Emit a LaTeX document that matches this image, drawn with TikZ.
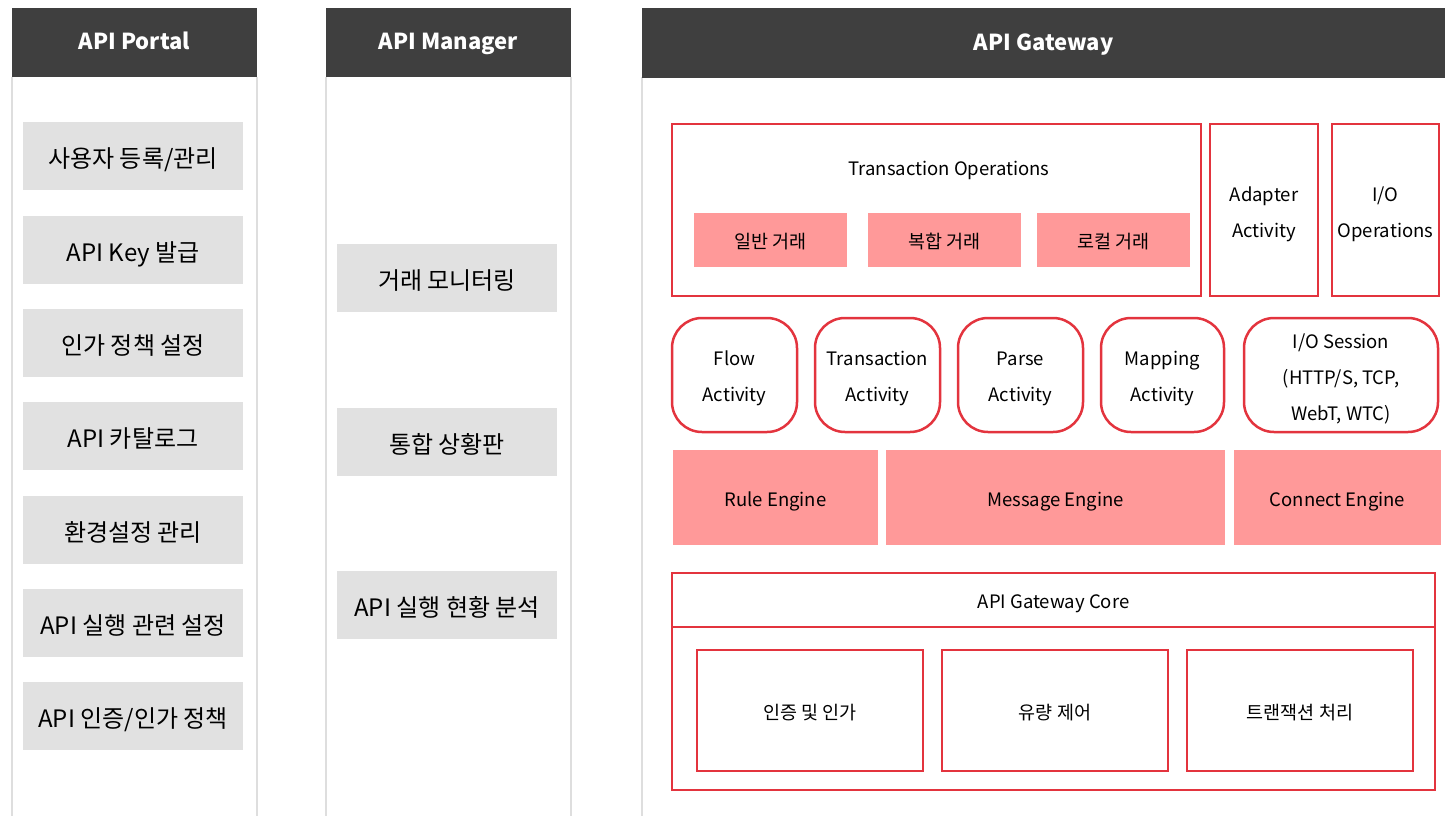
\documentclass[tikz,border=0pt]{standalone}
\usepackage{fontspec}
\setmainfont{Noto Sans CJK KR}
\usepackage{tikz}

\definecolor{hdrgray}{HTML}{3F3F3F}
\definecolor{itemgray}{HTML}{E1E1E1}
\definecolor{linegray}{HTML}{DEDEDE}
\definecolor{boxred}{HTML}{E3343E}
\definecolor{boxpink}{HTML}{FF9999}

% extra room above the first line of a box text
\newcommand{\padtop}[1]{\rule{0pt}{#1}}

\tikzset{
  colhead/.style={fill=hdrgray, text=white, inner sep=0pt, text height=17pt, text depth=2.2pt, font=\bfseries\fontsize{22}{26}\selectfont},
  colline/.style={draw=linegray, line width=2pt},
  gwtext/.style={inner sep=0pt, text height=19pt, text depth=2pt, font=\fontsize{18.5}{22}\selectfont},
  graybox/.style={fill=itemgray, inner sep=0pt, text height=24.5pt, text depth=2.5pt, minimum width=220pt, minimum height=68pt, font=\fontsize{24}{28}\selectfont},
  redbox/.style={draw=boxred, line width=2.5pt, inner sep=0pt, align=center, font=\fontsize{18.5}{36}\selectfont},
  roundbox/.style={redbox, rounded corners=30pt, minimum height=114pt},
  pinkbox/.style={fill=boxpink, gwtext}
}

\begin{document}
\begin{tikzpicture}[x=1pt,y=1pt,yscale=-1,xscale=1]
\useasboundingbox (0,0) rectangle (1445,816);

%Columns
\draw [colline] (12,77) -- (12,816) ;
\draw [colline] (257,77) -- (257,816) ;
\draw [colline] (326,77) -- (326,816) ;
\draw [colline] (571,77) -- (571,816) ;
\draw [colline] (642,77) -- (642,816) ;

% Headers
\node (hPortal) [colhead, minimum width=245pt, minimum height=69pt] at (134.5,42.5) {API Portal};
\node (hManager) [colhead, minimum width=245pt, minimum height=69pt] at (448.5,42.5) {API Manager};
\node (hGateway) [colhead, minimum width=803pt, minimum height=70pt] at (1043.5,43) {API Gateway};

% API Portal items
\node (pUser) [graybox] at (133,156) {사용자 등록/관리};
\node (pKey) [graybox] at (133,250) {API Key 발급};
\node (pAuthz) [graybox] at (133,343) {인가 정책 설정};
\node (pCatalog) [graybox] at (133,436) {API 카탈로그};
\node (pEnv) [graybox] at (133,530) {환경설정 관리};
\node (pExec) [graybox] at (133,623) {API 실행 관련 설정};
\node (pAuth) [graybox] at (133,716) {API 인증/인가 정책};

% API Manager items
\node (mMonitor) [graybox] at (447,278) {거래 모니터링};
\node (mBoard) [graybox] at (447,442) {통합 상황판};
\node (mStats) [graybox] at (447,605) {API 실행 현황 분석};

% Transaction Operations
\node (gTxOps) [redbox, minimum width=529pt, minimum height=172pt] at (936.5,210) {};
\node (gTxTitle) [gwtext] at (949,166.5) {Transaction Operations};
\node (gNormal) [pinkbox, minimum width=153pt, minimum height=54pt] at (770.5,240) {일반 거래};
\node (gComplex) [pinkbox, minimum width=153pt, minimum height=54pt] at (944.5,240) {복합 거래};
\node (gLocal) [pinkbox, minimum width=153pt, minimum height=54pt] at (1113.5,240) {로컬 거래};
\node (gAdapter) [redbox, minimum width=108pt, minimum height=172pt] at (1264,210) {\padtop{24pt}Adapter\\Activity};
\node (gIoOps) [redbox, minimum width=107pt, minimum height=172pt] at (1385.5,210) {\padtop{24pt}I/O\\Operations};

% Activities
\node (aFlow) [roundbox, minimum width=125pt] at (734.5,375) {\padtop{20.5pt}Flow\\Activity};
\node (aTx) [roundbox, minimum width=125pt] at (877.5,375) {\padtop{20.5pt}Transaction\\Activity};
\node (aParse) [roundbox, minimum width=125pt] at (1020.5,375) {\padtop{20.5pt}Parse\\Activity};
\node (aMapping) [roundbox, minimum width=123pt] at (1162.5,375) {\padtop{20.5pt}Mapping\\Activity};
\node (aSession) [roundbox, minimum width=194pt] at (1341,375) {\padtop{23pt}I/O Session\\(HTTP/S, TCP,\\WebT, WTC)};

% Engines
\node (eRule) [pinkbox, minimum width=205pt, minimum height=95pt] at (775.5,497.5) {Rule Engine};
\node (eMessage) [pinkbox, minimum width=339pt, minimum height=95pt] at (1055.5,497.5) {Message Engine};
\node (eConnect) [pinkbox, minimum width=207pt, minimum height=95pt] at (1337.5,497.5) {Connect Engine};

% API Gateway Core
\node (cHead) [redbox, gwtext, minimum width=763pt, minimum height=54pt] at (1053.5,600) {API Gateway Core};
\node (cBody) [redbox, minimum width=763pt, minimum height=163pt] at (1053.5,708.5) {};
\node (cAuth) [redbox, gwtext, minimum width=226pt, minimum height=121pt] at (810,710.5) {인증 및 인가};
\node (cFlow) [redbox, gwtext, minimum width=226pt, minimum height=121pt] at (1055,710.5) {유량 제어};
\node (cTx) [redbox, gwtext, minimum width=226pt, minimum height=121pt] at (1300,710.5) {트랜잭션 처리};

\end{tikzpicture}
\end{document}
